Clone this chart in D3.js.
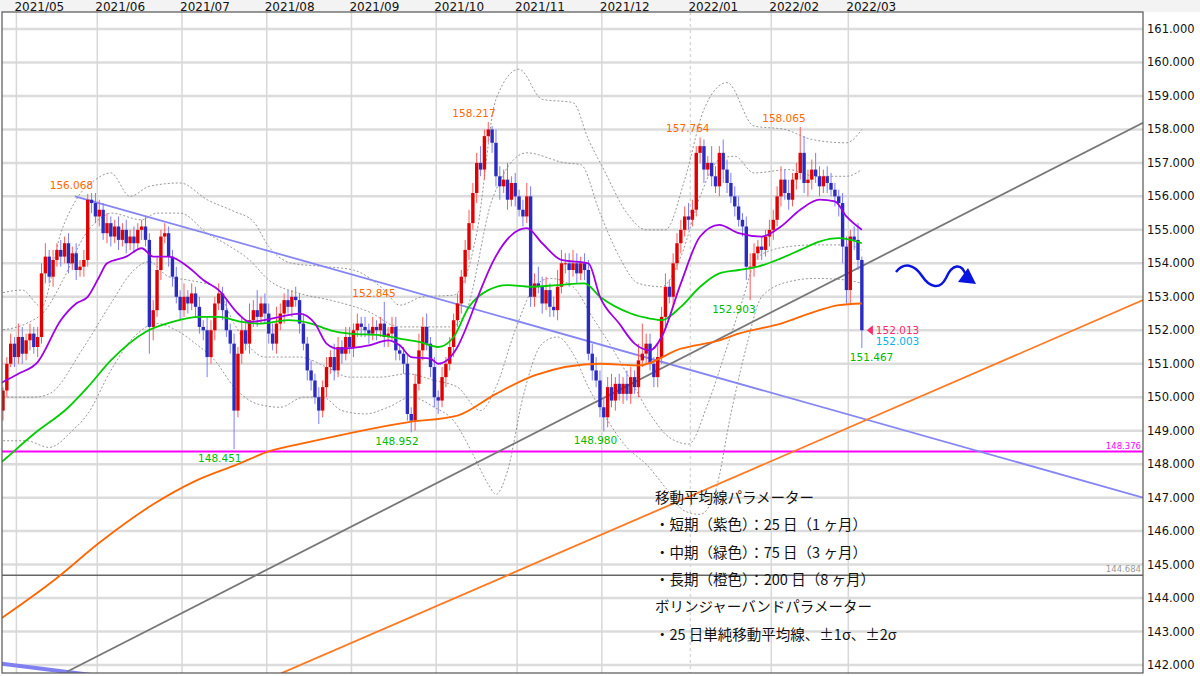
<!DOCTYPE html>
<html><head><meta charset="utf-8">
<script src="https://cdn.jsdelivr.net/npm/d3@7"></script>
<style>body{margin:0;background:#fff}svg{display:block}</style>
</head><body>
<svg id="c" width="1200" height="676"></svg>
<script>
// ---- data ----
const monthLabels=["2021/05","2021/06","2021/07","2021/08","2021/09","2021/10","2021/11","2021/12","2022/01","2022/02","2022/03"];
const monthStartIdx=[4,25,47,69,91,113,134,156,179,200,220];
const yTicks=[142,143,144,145,146,147,148,149,150,151,152,153,154,155,156,157,158,159,160,161];
const firstOpen=149.6;
const closes=[
150.2,151.0,151.6,151.2,151.8,151.3,151.7,151.9,151.5,151.8,
153.7,154.2,153.6,154.1,154.4,154.2,154.6,154.0,154.3,153.8,
153.9,154.1,155.9,155.8,
155.4,155.6,154.9,155.2,154.8,155.1,154.7,155.0,154.6,154.8,154.6,155.0,155.1,154.7,
152.1,152.6,153.8,154.8,154.9,154.2,153.6,153.0,152.6,153.0,152.8,153.1,152.7,152.1,
152.0,151.2,152.0,152.8,153.1,152.6,152.0,151.6,
149.6,151.3,152.0,151.6,152.3,152.6,152.4,152.8,152.5,
151.9,151.6,152.2,152.5,152.9,152.7,153.0,152.9,
152.2,151.6,150.8,150.5,150.0,149.6,150.3,150.9,151.2,150.8,151.5,151.3,151.8,151.5,
152.0,152.2,152.1,152.0,151.9,152.1,152.0,152.2,151.8,151.9,152.1,
151.4,151.3,151.0,149.5,149.3,150.4,151.4,152.1,151.6,150.9,150.0,
149.9,150.6,151.0,151.5,152.3,152.8,
153.6,154.4,155.2,156.1,157.0,156.8,157.8,158.0,157.6,156.6,156.3,
156.5,155.9,156.4,156.0,155.6,155.4,156.0,153.0,153.4,153.3,
152.8,153.2,152.7,152.6,153.3,154.0,154.0,153.8,154.0,153.7,154.0,153.8,
151.3,150.8,150.5,149.7,149.4,150.3,149.9,150.4,
150.1,150.4,150.1,150.6,150.3,151.1,151.3,151.6,151.0,150.6,
151.2,152.4,153.3,153.0,154.0,154.6,155.0,155.4,155.3,155.6,
157.3,157.5,156.8,157.0,156.6,156.3,157.3,156.8,156.4,156.0,
155.7,155.3,155.1,153.9,153.9,154.3,154.5,154.4,154.8,155.0,
155.3,156.0,156.5,156.1,155.9,156.5,156.7,157.3,156.4,156.5,
156.8,156.6,156.3,156.6,156.4,156.2,156.0,155.8,
154.5,153.2,154.8,154.7,154.1,152.0];
const upperWick=[
0.1,0.2,0.3,0.2,0.4,0.3,0.2,0.3,0.2,0.3, 0.3,0.4,0.2,0.3,0.2,0.3,0.2,0.3,0.2,0.3,
0.2,0.3,0.17,0.2,0.3,0.3,0.2,0.3,0.2,0.2, 0.3,0.2,0.3,0.2,0.3,0.2,0.2,0.3,0.2,0.3,
0.4,0.2,0.3,0.2,0.2,0.3,0.2,0.4,0.2,0.3, 0.2,0.3,0.2,0.4,0.3,0.2,0.3,0.2,0.3,0.2,
0.3,0.2,0.4,0.3,0.5,0.3,0.6,0.2,0.3,0.3, 0.3,0.5,0.3,0.2,0.3,0.2,0.3,0.2,0.3,0.2,
0.3,0.2,0.3,0.2,0.3,0.2,0.4,0.3,0.2,0.3, 0.3,0.2,0.3,0.2,0.3,0.2,0.3,0.2,0.2,0.65,
0.2,0.3,0.3,0.2,0.2,0.3,0.2,0.3,0.5,0.3, 0.4,0.2,0.3,0.2,0.3,0.2,0.3,0.2,0.3,0.2,
0.3,0.4,0.3,0.3,0.5,0.2,0.22,0.1,0.4,0.3, 0.3,0.5,0.2,0.3,0.2,0.3,0.4,0.3,0.3,0.5,
0.3,0.4,0.2,0.3,0.5,0.4,0.3,0.3,0.4,0.3, 0.2,0.3,0.3,0.3,0.4,0.3,0.3,0.3,0.4,0.2,
0.3,0.2,0.4,0.3,0.2,0.5,0.9,0.3,0.3,0.2, 0.4,0.3,0.4,0.2,0.3,0.3,0.3,0.3,0.4,0.3,
0.2,0.26,0.2,0.2,0.5,0.3,0.2,0.4,0.3,0.3, 0.3,0.3,0.2,0.3,0.4,0.3,0.2,0.3,0.2,0.3,
0.3,0.3,0.4,0.3,0.4,0.2,0.3,0.77,0.5,0.3, 0.3,0.5,0.3,0.2,0.3,0.3,0.2,0.2,0.3,0.3,
0.2,0.3,0.5,0.1];
const lowerWick=[
0.3,0.2,0.1,0.3,0.2,0.3,0.2,0.3,0.2,0.3, 0.2,0.3,0.2,0.3,0.2,0.3,0.2,0.3,0.2,0.3,
0.2,0.3,0.2,0.3,0.2,0.3,0.2,0.3,0.3,0.2, 0.3,0.2,0.3,0.2,0.3,0.2,0.3,0.2,0.8,0.4,
0.2,0.3,0.2,0.3,0.3,0.2,0.3,0.2,0.3,0.2, 0.3,0.2,0.3,0.6,0.2,0.3,0.2,0.3,0.2,0.3,
1.15,0.2,0.3,0.2,0.3,0.2,0.3,0.2,0.3,0.3, 0.2,0.3,0.2,0.3,0.2,0.3,0.2,0.3,0.2,0.3,
0.3,0.2,0.4,0.2,0.3,0.2,0.3,0.2,0.3,0.2, 0.2,0.3,0.2,0.3,0.2,0.3,0.2,0.3,0.2,0.3,
0.3,0.2,0.3,0.2,0.3,0.2,0.35,0.3,0.2,0.3, 0.2,0.3,0.3,0.4,0.2,0.3,0.2,0.3,0.2,0.3,
0.2,0.3,0.2,0.3,0.2,0.3,0.2,0.3,0.3,0.4, 0.2,0.3,0.2,0.3,0.2,0.3,0.2,0.3,0.3,0.2,
0.3,0.2,0.3,0.2,0.3,0.2,0.3,0.5,0.2,0.3, 0.2,0.3,0.2,0.3,0.2,0.3,0.42,0.3,0.2,0.3,
0.2,0.3,0.2,0.3,0.2,0.3,0.2,0.3,0.2,0.3, 0.3,0.2,0.3,0.2,0.3,0.2,0.3,0.2,0.3,0.2,
0.2,0.3,0.4,0.2,0.3,0.2,0.3,0.4,0.3,0.2, 0.3,0.2,0.3,0.4,1.0,0.3,0.2,0.3,0.2,0.3,
0.3,0.2,0.3,0.2,0.3,0.2,0.3,0.2,0.3,0.4, 0.3,0.2,0.3,0.2,0.3,0.2,0.3,0.4,0.5,0.4,
0.4,0.3,0.3,0.53];
// moving averages [barIndex, value]
const ma25=[[-1,150.4],[4,150.7],[9,151.05],[15,152.3],[19,152.8],[22,153.0],[25,153.6],[27,154.0],[32,154.2],[36,154.45],[39,154.2],[43,154.2],[48,153.9],[52,153.5],[56,153.2],[61,152.5],[64,152.25],[72,152.4],[77,152.5],[81,152.2],[84,151.6],[87,151.45],[95,151.55],[100,151.7],[103,151.55],[106,151.2],[111,151.15],[113,151.0],[118,151.5],[120,152.0],[124,153.2],[127,154.0],[134,155.0],[136,155.05],[140,154.6],[145,154.1],[152,154.0],[155,153.0],[160,152.2],[164,151.6],[168,151.4],[171,151.8],[176,153.4],[181,154.8],[186,155.15],[191,154.9],[197,154.8],[202,155.1],[207,155.6],[212,155.9],[216,155.85],[219,155.4],[223,155.0]];
const ma75=[[-1,148.0],[1,148.2],[8,148.9],[17,149.7],[22,150.3],[28,151.1],[37,151.95],[44,152.25],[51,152.4],[56,152.4],[62,152.25],[67,152.2],[74,152.3],[80,152.2],[85,152.0],[90,151.9],[98,151.85],[103,151.75],[108,151.65],[113,151.5],[117,151.8],[121,152.7],[126,153.2],[131,153.35],[137,153.3],[144,153.35],[151,153.4],[155,153.0],[163,152.5],[168,152.35],[171,152.3],[176,152.7],[181,153.3],[186,153.7],[191,153.8],[196,153.9],[202,154.15],[207,154.4],[212,154.65],[217,154.75],[223,154.6]];
const ma200=[[-1,143.35],[14,144.6],[25,145.65],[39,146.8],[50,147.5],[61,148.0],[69,148.38],[79,148.65],[105,149.25],[118,149.45],[128,150.1],[138,150.65],[155,151.0],[165,150.95],[176,151.45],[186,151.7],[191,151.9],[202,152.2],[212,152.6],[217,152.75],[223,152.8]];
const bbUp2=[[-1,153.1],[5,153.2],[10,152.7],[15,154.9],[19,155.9],[24,156.5],[28,156.7],[33,156.0],[38,156.3],[46,156.4],[53,155.9],[60,155.55],[65,155.25],[69,154.5],[75,154.0],[84,153.9],[91,153.8],[99,153.2],[103,152.75],[109,153.0],[117,153.05],[123,154.9],[128,158.9],[134,159.8],[140,158.9],[148,158.8],[152,157.7],[156,156.8],[162,155.5],[167,155.0],[172,155.0],[177,156.5],[182,158.6],[188,159.4],[195,158.1],[203,158.0],[210,157.7],[219,157.6],[223,158.0]];
const bbUp1=[[-1,152.0],[6,152.2],[11,152.6],[16,153.6],[21,154.8],[26,155.4],[28,155.5],[36,155.3],[40,155.5],[46,155.5],[53,154.9],[59,154.5],[64,154.1],[69,153.5],[77,153.1],[85,152.9],[95,152.55],[103,152.1],[109,152.1],[116,152.1],[120,152.5],[127,155.9],[136,157.3],[146,157.0],[150,156.95],[155,155.5],[160,154.2],[165,153.4],[171,153.3],[176,154.2],[181,156.0],[186,157.1],[190,157.2],[195,156.7],[204,156.8],[211,156.6],[219,156.6],[223,156.8]];
const bbLo1=[[-1,150.0],[8,150.0],[12,150.1],[21,151.5],[28,152.8],[34,153.8],[38,154.05],[43,153.6],[48,153.5],[55,153.3],[60,152.2],[64,151.5],[68,151.2],[77,151.2],[84,150.9],[90,150.6],[98,150.6],[105,150.7],[112,150.5],[118,150.3],[124,149.6],[128,150.3],[133,152.0],[138,153.3],[142,153.55],[148,153.3],[153,152.4],[158,151.5],[163,150.5],[168,149.5],[173,148.8],[178,148.6],[183,149.8],[188,151.5],[192,152.9],[196,154.2],[204,154.5],[211,154.55],[219,154.55],[223,154.4]];
const bbLo2=[[-1,148.7],[6,148.7],[12,148.5],[18,149.0],[22,149.5],[28,150.8],[34,151.8],[40,152.2],[45,152.0],[50,151.6],[55,151.1],[60,150.3],[66,149.8],[72,149.7],[78,150.0],[83,150.0],[88,149.6],[94,149.5],[100,149.7],[106,150.0],[112,149.7],[117,149.3],[122,148.3],[126,147.4],[128,147.1],[131,147.8],[135,150.0],[140,151.6],[144,151.8],[148,151.3],[152,150.3],[157,149.3],[162,148.5],[167,148.0],[172,147.3],[177,146.6],[181,146.5],[185,147.2],[189,149.5],[193,151.5],[197,153.0],[204,153.45],[211,153.55],[219,153.5],[223,153.4]];
// trend lines [barIndex, price]
const trendBlue=[[18.7,156.0],[296,147.0]];
const trendBlueThick=[[-1,142.05],[30,141.6]];
const trendGray=[[16.6,141.8],[296,158.2]];
const trendOrange=[[72.2,141.75],[296,152.9]];
const hLines=[{v:148.376,c:"#ff00ff",w:2,label:"148.376"},{v:144.684,c:"#666",w:1.5,label:"144.684"}];
const highLabels=[{i:22,v:156.068,t:"156.068",dx:-38},{i:126,v:158.217,t:"158.217",dx:-36},{i:99,v:152.845,t:"152.845",dx:-32},{i:181,v:157.764,t:"157.764",dx:-34},{i:207,v:158.065,t:"158.065",dx:-38}];
const lowLabels=[{i:60,v:148.451,t:"148.451",dx:-36},{i:106,v:148.952,t:"148.952",dx:-36},{i:156,v:148.980,t:"148.980",dx:-30},{i:194,v:152.903,t:"152.903",dx:-38},{i:223,v:151.467,t:"151.467",dx:-12}];
const priceTags=[{t:"152.013",c:"#ff2a6a"},{t:"152.003",c:"#00b4f0"}];
const noteLines=["移動平均線パラメーター","・短期（紫色）：25 日（1 ヶ月）","・中期（緑色）：75 日（3 ヶ月）","・長期（橙色）：200 日（8 ヶ月）","ボリンジャーバンドパラメーター","・25 日単純移動平均線、±1σ、±2σ"];

// ---- chart ----
const L=2,R=1143,T=12,B=673;
const svg=d3.select("#c");
const x=d3.scaleLinear().domain([0,296]).range([3,1143]);
const y=d3.scaleLinear().domain([142,161]).range([665,29]);
const F="DejaVu Sans, sans-serif";
svg.append("rect").attr("x",0).attr("y",0).attr("width",1200).attr("height",T).attr("fill","#f3f3f3");
svg.append("defs").append("clipPath").attr("id","clip").append("rect").attr("x",L).attr("y",T).attr("width",R-L).attr("height",B-T);
const g=svg.append("g").attr("clip-path","url(#clip)");
yTicks.forEach(v=>{g.append("line").attr("x1",L).attr("x2",R).attr("y1",y(v)).attr("y2",y(v)).attr("stroke","#dcdcdc").attr("stroke-width",2.5);});
monthStartIdx.forEach((m,k)=>{g.append("line").attr("x1",x(m)-2).attr("x2",x(m)-2).attr("y1",T).attr("y2",B).attr("stroke","#d8d8d8").attr("stroke-width",1.5).attr("stroke-dasharray",k==8?"3,3":null);});
svg.selectAll(".mt").data(monthLabels).enter().append("text").attr("x",(d,k)=>x(monthStartIdx[k])-4).attr("y",10.5).text(d=>d).attr("font-family",F).attr("font-size",12).attr("fill","#111");
svg.selectAll(".yt").data(yTicks).enter().append("text").attr("x",1147).attr("y",d=>y(d)+4).text(d=>d.toFixed(3)).attr("font-family",F).attr("font-size",11.5).attr("fill","#111");
hLines.forEach(h=>{g.append("line").attr("x1",L).attr("x2",R).attr("y1",y(h.v)).attr("y2",y(h.v)).attr("stroke",h.c).attr("stroke-width",h.w);
 g.append("text").attr("x",R-2).attr("y",y(h.v)-3).attr("text-anchor","end").text(h.label).attr("font-family",F).attr("font-size",8.5).attr("fill",h.c=="#666"?"#999":h.c);});
const line=d3.line().x(d=>x(d[0])).y(d=>y(d[1]));
const curve=d3.line().x(d=>x(d[0])).y(d=>y(d[1])).curve(d3.curveMonotoneX);
[bbUp2,bbUp1,bbLo1,bbLo2].forEach(b=>g.append("path").attr("d",curve(b)).attr("fill","none").attr("stroke","#8a8a8a").attr("stroke-width",0.9).attr("stroke-dasharray","2,2"));
g.append("path").attr("d",line(trendBlueThick)).attr("stroke","#8080f0").attr("stroke-width",4).attr("fill","none");
g.append("path").attr("d",line(trendBlue)).attr("stroke","#8585f5").attr("stroke-width",1.8).attr("fill","none");
g.append("path").attr("d",line(trendGray)).attr("stroke","#777").attr("stroke-width",1.8).attr("fill","none");
g.append("path").attr("d",line(trendOrange)).attr("stroke","#ff7a22").attr("stroke-width",1.8).attr("fill","none");
const bars=closes.map((c,i)=>{const o=i?closes[i-1]:firstOpen;return{i,o,c,h:Math.max(o,c)+upperWick[i],l:Math.min(o,c)-lowerWick[i]};});
const cg=g.append("g");
bars.forEach(b=>{const up=b.c>=b.o;const cx=x(b.i);
 cg.append("line").attr("x1",cx).attr("x2",cx).attr("y1",y(b.h)).attr("y2",y(b.l)).attr("stroke",up?"#ff5a5a":"#7c7cff").attr("stroke-width",1);
 const top=y(Math.max(b.o,b.c)),bot=y(Math.min(b.o,b.c));
 cg.append("rect").attr("x",cx-1.7).attr("width",3.4).attr("y",top).attr("height",Math.max(1,bot-top)).attr("fill",up?"#e00000":"#2b2bc0");});
g.append("path").attr("d",curve(ma200)).attr("fill","none").attr("stroke","#ff6600").attr("stroke-width",1.8);
g.append("path").attr("d",curve(ma75)).attr("fill","none").attr("stroke","#00cc00").attr("stroke-width",1.8);
g.append("path").attr("d",curve(ma25)).attr("fill","none").attr("stroke","#a000e8").attr("stroke-width",1.8);
highLabels.forEach(h=>svg.append("text").attr("x",x(h.i)+h.dx).attr("y",y(h.v)-5).text(h.t).attr("font-family",F).attr("font-size",10.5).attr("fill","#ff6a00"));
lowLabels.forEach(h=>svg.append("text").attr("x",x(h.i)+h.dx).attr("y",y(h.v)+13).text(h.t).attr("font-family",F).attr("font-size",10.5).attr("fill","#00bb00"));
const last=bars[bars.length-1];const ly=y(last.c);
svg.append("path").attr("d",`M${x(last.i)+5},${ly} l6,-5 l0,10 z`).attr("fill","#ff2a6a");
priceTags.forEach((p,k)=>svg.append("text").attr("x",x(last.i)+14).attr("y",ly+4+k*11).text(p.t).attr("font-family",F).attr("font-size",10.5).attr("fill",p.c));
svg.append("path").attr("d","M896,272 C904,262 914,264 922,276 C930,288 940,290 946,278 C952,264 962,262 966,276").attr("fill","none").attr("stroke","#0a14e0").attr("stroke-width",2.5);
svg.append("path").attr("d","M958,282 L976,284 L968,268 Z").attr("fill","#0a14e0");
noteLines.forEach((t,k)=>svg.append("text").attr("x",655).attr("y",503+k*27.3).text(t).attr("font-family","Noto Sans CJK JP, sans-serif").attr("font-size",14.5).attr("fill","#111"));
svg.append("rect").attr("x",L).attr("y",T).attr("width",R-L).attr("height",B-T).attr("fill","none").attr("stroke","#555").attr("stroke-width",1.2);
</script></body></html>
